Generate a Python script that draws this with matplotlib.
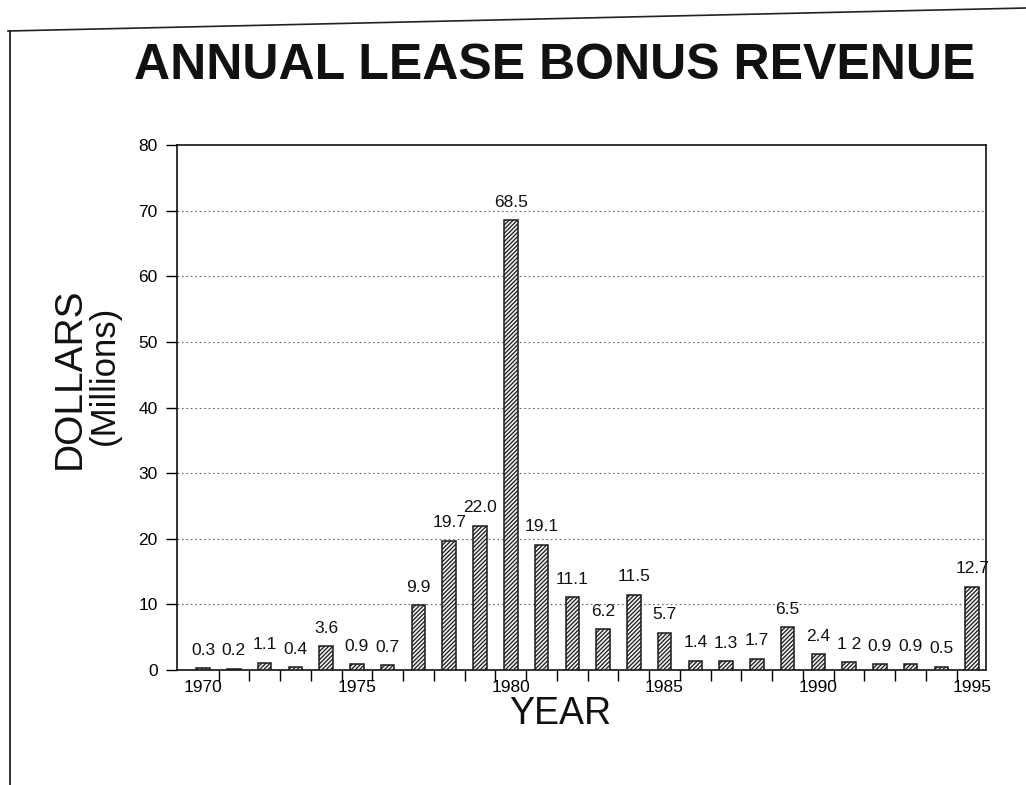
import matplotlib
matplotlib.use("Agg")
import matplotlib.pyplot as plt
from matplotlib.lines import Line2D
import numpy as np

years = list(range(1970, 1996))
revenue = [0.3, 0.2, 1.1, 0.4, 3.6, 0.9, 0.7, 9.9, 19.7, 22.0, 68.5, 19.1, 11.1,
           6.2, 11.5, 5.7, 1.4, 1.3, 1.7, 6.5, 2.4, 1.2, 0.9, 0.9, 0.5, 12.7]
labels = ["0.3", "0.2", "1.1", "0.4", "3.6", "0.9", "0.7", "9.9", "19.7", "22.0",
          "68.5", "19.1", "11.1", "6.2", "11.5", "5.7", "1.4", "1.3", "1.7", "6.5",
          "2.4", "1 2", "0.9", "0.9", "0.5", "12.7"]
xtick_years = [1970, 1975, 1980, 1985, 1990, 1995]
yticks = [0, 10, 20, 30, 40, 50, 60, 70, 80]

plt.rcParams['font.family'] = ['Liberation Sans', 'DejaVu Sans']
plt.rcParams['hatch.linewidth'] = 0.9
plt.rcParams['hatch.color'] = '#333333'

W, H = 1026, 785
fig = plt.figure(figsize=(W / 100, H / 100), dpi=100)
ax = fig.add_axes([177 / W, 1 - 670 / H, (986 - 177) / W, (670 - 145) / H])

ax.bar(years, revenue, width=0.44, facecolor="#f0f0f0", edgecolor="#1a1a1a",
       hatch="////////", linewidth=1.1, zorder=3)

for x, v, t in zip(years, revenue, labels):
    ax.text(x, v + 1.6, t, ha="center", va="bottom", fontsize=12.5, color="#111111", zorder=4)

ax.set_xlim(1969.15, 1995.45)
ax.set_ylim(0, 80)
ax.set_xticks(xtick_years)
ax.set_xticklabels([str(y) for y in xtick_years], fontsize=12.5)
ax.set_xticks(np.arange(1970.5, 1995, 1.0), minor=True)
ax.tick_params(axis="x", which="major", length=0, pad=7)
ax.tick_params(axis="x", which="minor", length=8, width=1.0, direction="out")
ax.set_yticks(yticks)
ax.set_yticklabels([str(y) for y in yticks], fontsize=12.5)
ax.tick_params(axis="y", length=8, width=1.0, direction="out", pad=6)

for y in yticks[1:-1]:
    ax.axhline(y, color="#666666", linestyle=(0, (1.5, 2.5)), linewidth=0.8, zorder=1)

for s in ax.spines.values():
    s.set_linewidth(1.2)
    s.set_color("#111111")

fig.text(555 / W, 1 - 66 / H, "ANNUAL LEASE BONUS REVENUE", ha="center", va="center",
         fontsize=36, fontweight="bold", color="#111111")
fig.text(560 / W, 1 - 714 / H, "YEAR", ha="center", va="center", fontsize=27, color="#111111")
fig.text(70 / W, 1 - 378 / H, "DOLLARS", ha="center", va="center", rotation=90,
         fontsize=28, color="#111111")
fig.text(104 / W, 1 - 375 / H, "(Millions)", ha="center", va="center", rotation=90,
         fontsize=25, color="#111111")

# page frame
fig.add_artist(Line2D([8 / W, 1.0], [1 - 31 / H, 1 - 8 / H], transform=fig.transFigure,
                      color="#222222", linewidth=1.2))
fig.add_artist(Line2D([10 / W, 10 / W], [1 - 31 / H, 0.0], transform=fig.transFigure,
                      color="#222222", linewidth=1.3))

fig.savefig("out.png", dpi=100, facecolor="white")
